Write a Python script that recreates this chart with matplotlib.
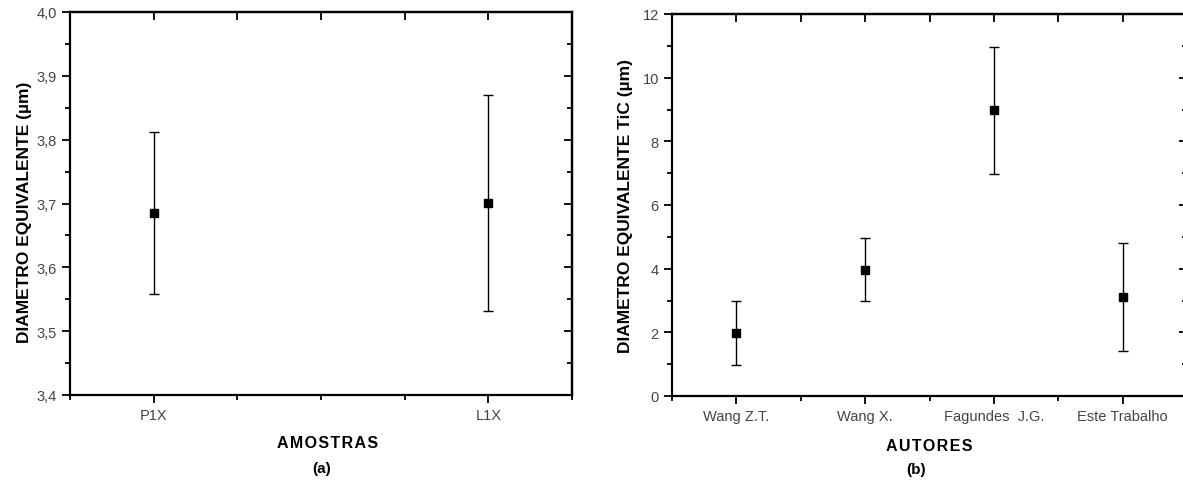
import matplotlib.pyplot as plt
from matplotlib.ticker import FuncFormatter, MultipleLocator

plt.rcParams['font.family'] = ['Liberation Sans', 'DejaVu Sans']

# painel (a)
amostras = ['P1X', 'L1X']
diam_a = [3.685, 3.701]
erro_a = [0.127, 0.169]

# painel (b)
autores = ['Wang Z.T.', 'Wang X.', 'Fagundes  J.G.', 'Este Trabalho']
diam_b = [1.97, 3.97, 8.97, 3.12]
erro_b = [1.0, 1.0, 2.0, 1.7]


def estilo(ax):
    for s in ax.spines.values():
        s.set_linewidth(1.6)
    ax.tick_params(which='both', direction='out', top=False, right=False,
                   labelsize=10.5, labelcolor='#444444', width=1.3)
    ax.tick_params(which='major', length=6)
    ax.tick_params(which='minor', length=3.5)
    # ticks para dentro no topo e na direita
    sec_x = ax.secondary_xaxis('top')
    sec_x.set_xticks(list(ax.get_xticks()) + list(ax.xaxis.get_minorticklocs()))
    sec_x.tick_params(direction='in', length=6, width=1.3, labeltop=False)
    sec_x.spines['top'].set_linewidth(1.6)
    sec_y = ax.secondary_yaxis('right')
    sec_y.yaxis.set_major_locator(ax.yaxis.get_major_locator())
    sec_y.yaxis.set_minor_locator(ax.yaxis.get_minor_locator())
    sec_y.tick_params(which='both', direction='in', width=1.3, labelright=False)
    sec_y.tick_params(which='major', length=6)
    sec_y.tick_params(which='minor', length=3.5)
    sec_y.spines['right'].set_linewidth(1.6)


def espacado(txt):
    return '\u200a'.join(txt)


fig = plt.figure(figsize=(11.83, 4.81), dpi=100)

ax1 = fig.add_axes([70 / 1183, 1 - 396 / 481, 502 / 1183, 383 / 481])
x1 = range(1, len(amostras) + 1)
ax1.errorbar(x1, diam_a, yerr=erro_a, fmt='s', color='black', ms=6,
             elinewidth=1, capsize=3.5, capthick=1)
ax1.set_xlim(0.75, 2.25)
ax1.set_ylim(3.4, 4.0)
ax1.set_xticks(list(x1))
ax1.set_xticklabels(amostras)
ax1.xaxis.set_minor_locator(MultipleLocator(0.25))
ax1.yaxis.set_major_locator(MultipleLocator(0.1))
ax1.yaxis.set_minor_locator(MultipleLocator(0.05))
ax1.yaxis.set_major_formatter(FuncFormatter(lambda v, p: f'{v:.1f}'.replace('.', ',')))
estilo(ax1)
ax1.set_ylabel('DIAMETRO EQUIVALENTE (µm)', fontsize=12.5, fontweight='bold')
ax1.yaxis.set_label_coords(-0.076, 0.48)
ax1.set_xlabel(espacado('AMOSTRAS'), fontsize=11.5, fontweight='bold')
ax1.xaxis.set_label_coords(0.514, -0.105)
fig.text(322 / 1183, 1 - 469 / 481, '(a)',
         ha='center', va='center', fontsize=11, fontweight='bold')

ax2 = fig.add_axes([672 / 1183, 1 - 397 / 481, 515 / 1183, 382 / 481])
x2 = range(1, len(autores) + 1)
ax2.errorbar(x2, diam_b, yerr=erro_b, fmt='s', color='black', ms=6,
             elinewidth=1, capsize=3.5, capthick=1)
ax2.set_xlim(0.5, 4.5)
ax2.set_ylim(0, 12)
ax2.set_xticks(list(x2))
ax2.set_xticklabels(autores)
ax2.xaxis.set_minor_locator(MultipleLocator(0.5))
ax2.yaxis.set_major_locator(MultipleLocator(2))
ax2.yaxis.set_minor_locator(MultipleLocator(1))
estilo(ax2)
ax2.set_ylabel('DIAMETRO EQUIVALENTE TiC (µm)', fontsize=12.5, fontweight='bold')
ax2.yaxis.set_label_coords(-0.076, 0.5)
ax2.set_xlabel(espacado('AUTORES'), fontsize=11.5, fontweight='bold')
ax2.xaxis.set_label_coords(0.5, -0.11)
fig.text(916 / 1183, 1 - 470 / 481, '(b)',
         ha='center', va='center', fontsize=11, fontweight='bold')

fig.savefig('out.png', dpi=100)
